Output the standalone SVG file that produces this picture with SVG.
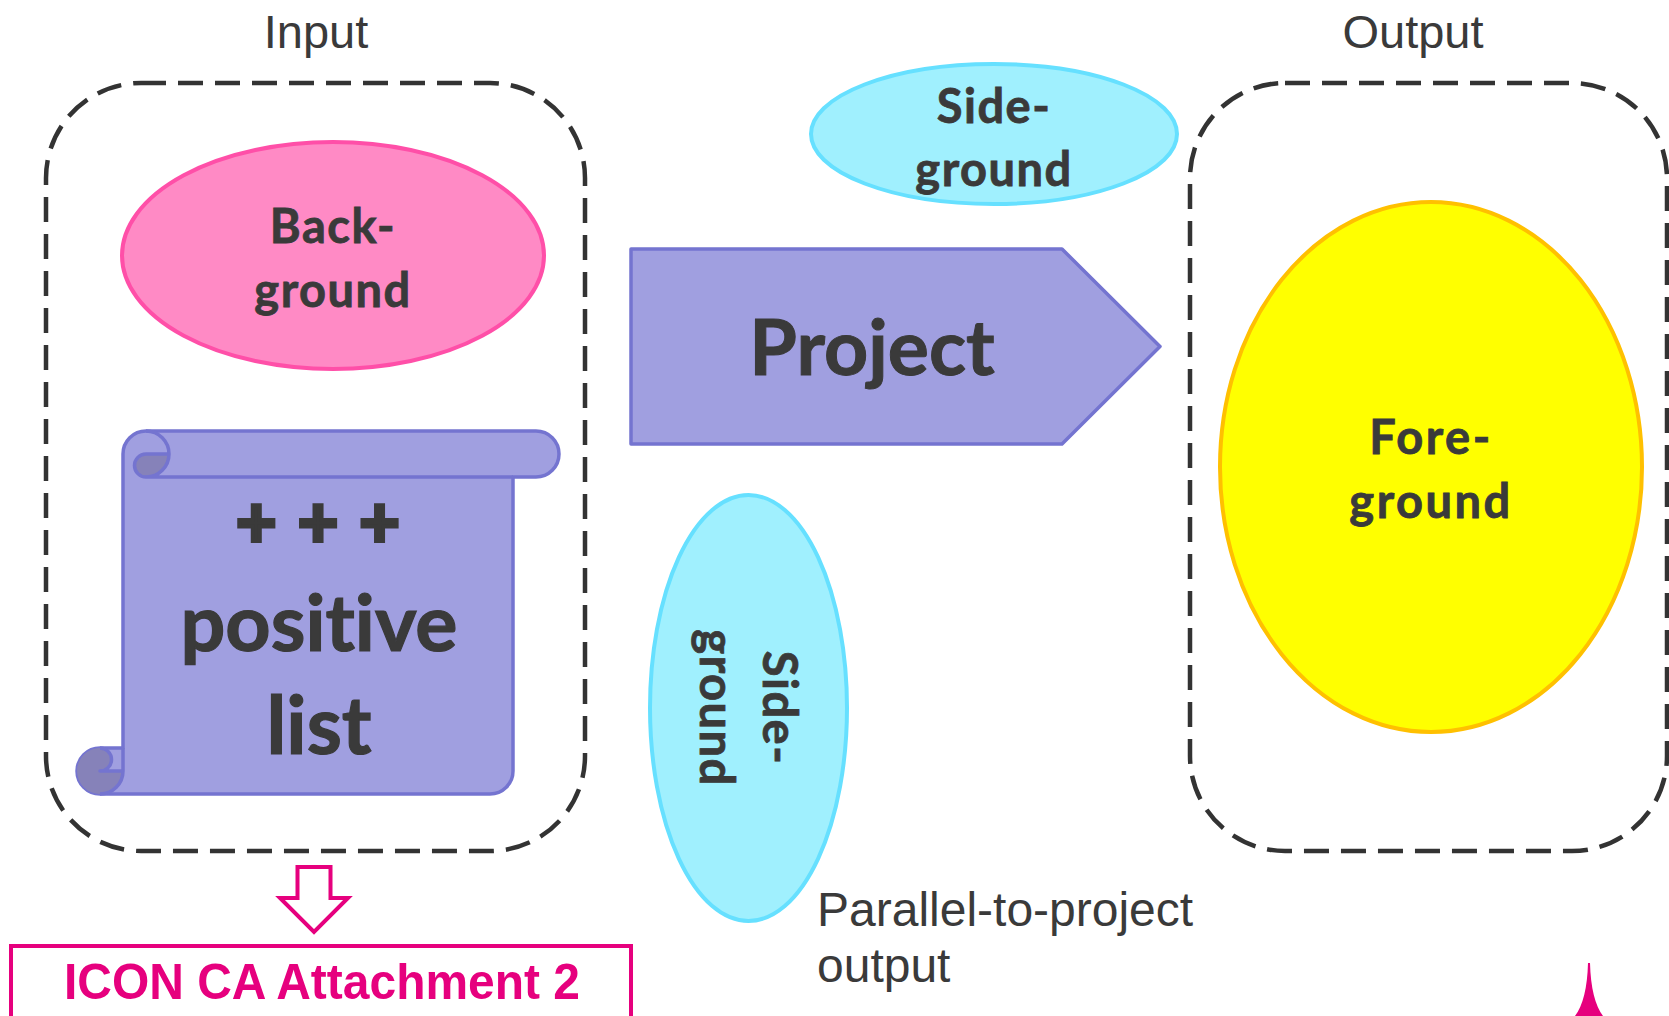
<svg xmlns="http://www.w3.org/2000/svg" width="1669" height="1016" viewBox="0 0 1669 1016">
<defs>
<style>
.lbl{font-family:"Liberation Sans",Arial,sans-serif;fill:#3a3a3a;font-size:47px;}
.bold{font-family:Lato,"Noto Sans",sans-serif;font-weight:bold;fill:#3a3a3a;text-anchor:middle;stroke:#3a3a3a;stroke-width:0.8;font-variant-ligatures:none;font-feature-settings:"liga" 0;}
.mid{font-size:47px;letter-spacing:1.5px;}
.dash{fill:none;stroke:#333;stroke-width:4.5;stroke-dasharray:25 12;}
.purple{fill:#a09fe0;stroke:#7474d0;stroke-width:3.5;stroke-linejoin:round;}
.cyan{fill:#a0f0fe;stroke:#66e0ff;stroke-width:4;}
.pink{fill:none;stroke:#e6007e;stroke-width:4;}
</style>
</defs>
<rect width="1669" height="1016" fill="#fff"/>

<g id="input-box">
<rect class="dash" x="46" y="83" width="539" height="768" rx="95" ry="95"/>
<text class="lbl" x="316" y="48" text-anchor="middle">Input</text>
</g>

<g id="output-box">
<rect class="dash" x="1190" y="83" width="477" height="768" rx="95" ry="95"/>
<text class="lbl" x="1413" y="48" text-anchor="middle">Output</text>
</g>

<g id="background">
<ellipse cx="333" cy="255.5" rx="211" ry="113.5" fill="#ff8ac5" stroke="#ff4fa8" stroke-width="4"/>
<text class="bold mid" x="333" y="243">Back-</text>
<text class="bold mid" x="333" y="307">ground</text>
</g>

<g id="positive-list">
<path class="purple" d="M123,748 L123,454 A23,23 0 0 1 146,431 L536,431 A23,23 0 0 1 536,477 L513,477 L513,771 A23,23 0 0 1 490,794 L100,794 A23,23 0 0 1 100,748 Z"/>
<path d="M169,454 A23,23 0 0 1 146,477 A11.5,11.5 0 0 1 146,454 Z" fill="#8682b9"/>
<path d="M123,771 A23,23 0 1 1 100,748 A11.5,11.5 0 0 1 100,771 Z" fill="#8682b9"/>
<path d="M146,431 A23,23 0 0 1 146,477 A11.5,11.5 0 0 1 146,454 L169,454 M513,477 L146,477 M100,748 A11.5,11.5 0 0 1 100,771 L123,771 M100,794 A23,23 0 0 0 123,771 L123,748" fill="none" stroke="#7474d0" stroke-width="3.5" stroke-linejoin="round"/>
<text class="bold" x="319" y="547" font-size="70" letter-spacing="2" style="stroke-width:4">+ + +</text>
<text class="bold" x="319" y="651" font-size="79" style="stroke-width:1.2">positive</text>
<text class="bold" x="319" y="754" font-size="80" style="stroke-width:1.2">list</text>
</g>

<g id="project">
<path class="purple" d="M631,249 L1062,249 L1160,346.5 L1062,444 L631,444 Z"/>
<text class="bold" x="872" y="375" font-size="77" style="stroke-width:1">Project</text>
</g>

<g id="sideground-top">
<ellipse class="cyan" cx="994" cy="134" rx="183" ry="70"/>
<text class="bold mid" x="994" y="123">Side-</text>
<text class="bold mid" x="994" y="186">ground</text>
</g>

<g id="sideground-parallel">
<ellipse class="cyan" cx="748.5" cy="708" rx="98.5" ry="213"/>
<g transform="translate(748,708) rotate(90)">
<text class="bold mid" x="0" y="-15">Side-</text>
<text class="bold mid" x="0" y="48">ground</text>
</g>
</g>

<g id="foreground">
<ellipse cx="1431" cy="467" rx="211" ry="265" fill="#ffff00" stroke="#ffc000" stroke-width="4"/>
<text class="bold" x="1431" y="454" font-size="47" letter-spacing="2.5">Fore-</text>
<text class="bold" x="1431" y="518" font-size="47" letter-spacing="2.5">ground</text>
</g>

<g id="parallel-label">
<text class="lbl" x="817" y="926" style="font-size:48px">Parallel-to-project</text>
<text class="lbl" x="817" y="982" style="font-size:48px">output</text>
</g>

<g id="connectors">
<path class="pink" d="M297.5,867 L330.5,867 L330.5,898 L348,898 L314,932 L280,898 L297.5,898 Z" style="fill:#fff"/>
</g>

<g id="icon-ca">
<rect class="pink" x="11" y="946" width="620" height="90"/>
<text x="322" y="999" text-anchor="middle" font-family="Liberation Sans,Arial,sans-serif" font-weight="bold" font-size="50" fill="#e6007e" textLength="516" lengthAdjust="spacingAndGlyphs">ICON CA Attachment 2</text>
</g>

<g id="pink-spire">
<path d="M1588,963 L1590,963 Q1591,1000 1603,1016 L1575,1016 Q1587,1000 1588,963 Z" fill="#e6007e"/>
</g>
</svg>
